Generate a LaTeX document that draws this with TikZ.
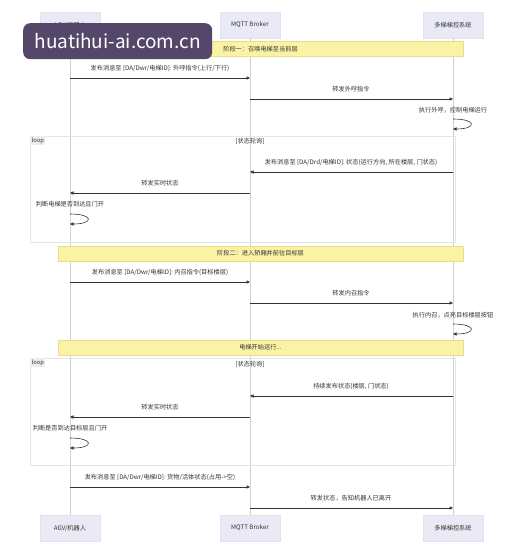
\documentclass[tikz,border=0pt]{standalone}
\usepackage{fontspec}
\setmainfont{Noto Sans CJK SC}
\usetikzlibrary{arrows.meta}
\definecolor{actfill}{HTML}{EAEAF7}
\definecolor{actline}{HTML}{E2E2EE}
\definecolor{notefill}{HTML}{FAF3A6}
\definecolor{noteline}{HTML}{E8DE88}
\definecolor{lifeln}{HTML}{D0D0D0}
\definecolor{txt}{HTML}{333333}
\definecolor{wm}{HTML}{54476A}
\begin{document}
\begin{tikzpicture}[x=1pt,y=-1pt,
  actor/.style={draw=actline, fill=actfill, minimum width=60pt, minimum height=26pt, font=\fontsize{6.2}{7}\selectfont, text=txt, inner sep=0pt},
  banner/.style={draw=noteline, fill=notefill, minimum width=405pt, minimum height=15pt, font=\fontsize{6.2}{7}\selectfont, text=txt, inner sep=0pt},
  lbl/.style={font=\fontsize{6.2}{7}\selectfont, text=txt, inner sep=0pt},
  msg/.style={draw=txt, line width=0.6pt, -{Triangle[length=3.5pt,width=3.2pt]}},
  life/.style={draw=lifeln, line width=0.6pt},
  loopbox/.style={draw=black!10, line width=0.7pt, minimum width=425pt, inner sep=0pt},
  looptag/.style={fill=black!7, font=\fontsize{5.8}{6}\selectfont, text=txt, inner sep=1.5pt}]

\useasboundingbox[fill=white] (0,0) rectangle (522,554);

% actors
\node[actor] (agvT) at (70,25) {AGV/机器人};
\node[actor] (mqT) at (250,25) {MQTT Broker};
\node[actor] (elT) at (453,25) {多梯梯控系统};
\node[actor] (agvB) at (70,528) {AGV/机器人};
\node[actor] (mqB) at (250,528) {MQTT Broker};
\node[actor] (elB) at (453,528) {多梯梯控系统};

% lifelines
\draw[life] (agvT) -- (agvB);
\draw[life] (mqT) -- (mqB);
\draw[life] (elT) -- (elB);

% loop boxes
\node[loopbox, minimum height=106pt, anchor=north west] (loop1) at (30,136) {};
\node[looptag, anchor=north west] (loop1t) at (loop1.north west) {loop};
\node[lbl] (loop1c) at (250,141) {[状态轮询]};
\node[loopbox, minimum height=107pt, anchor=north west] (loop2) at (30,358) {};
\node[looptag, anchor=north west] (loop2t) at (loop2.north west) {loop};
\node[lbl] (loop2c) at (250,364) {[状态轮询]};

% banners
\node[banner] (ph1) at (260.5,49) {阶段一：召唤电梯至当前层};
\node[banner] (ph2) at (260.5,253.5) {阶段二：进入轿厢并前往目标层};
\node[banner] (ph3) at (260.5,347.5) {电梯开始运行...};

% phase 1
\node[lbl] (t1) at (160,68) {发布消息至 [DA/Dwr/电梯ID]: 外呼指令(上行/下行)};
\draw[msg] (agvT |- 0,78) -- (mqT |- 0,78);
\node[lbl] (t2) at (351,89) {转发外呼指令};
\draw[msg] (mqT |- 0,99) -- (elT |- 0,99);
\node[lbl] (t3) at (453,110) {执行外呼，控制电梯运行};
\draw[msg] (elT |- 0,119) .. controls +(24,0) and +(24,0) .. (elT |- 0,129);

% loop 1
\node[lbl] (t4) at (351,162) {发布消息至 [DA/Drd/电梯ID]: 状态(运行方向, 所在楼层, 门状态)};
\draw[msg] (elT |- 0,172) -- (mqT |- 0,172);
\node[lbl] (t5) at (160,183) {转发实时状态};
\draw[msg] (mqT |- 0,193) -- (agvT |- 0,193);
\node[lbl] (t6) at (70,204) {判断电梯是否到达且门开};
\draw[msg] (agvT |- 0,214) .. controls +(24,0) and +(24,0) .. (agvT |- 0,224);

% phase 2
\node[lbl] (t7) at (160,272) {发布消息至 [DA/Dwr/电梯ID]: 内召指令(目标楼层)};
\draw[msg] (agvT |- 0,282) -- (mqT |- 0,282);
\node[lbl] (t8) at (351,293) {转发内召指令};
\draw[msg] (mqT |- 0,303) -- (elT |- 0,303);
\node[lbl] (t9) at (453,315) {执行内召，点亮目标楼层按钮};
\draw[msg] (elT |- 0,324) .. controls +(24,0) and +(24,0) .. (elT |- 0,334);

% loop 2
\node[lbl] (t10) at (351,386) {持续发布状态(楼层, 门状态)};
\draw[msg] (elT |- 0,396) -- (mqT |- 0,396);
\node[lbl] (t11) at (160,407) {转发实时状态};
\draw[msg] (mqT |- 0,417) -- (agvT |- 0,417);
\node[lbl] (t12) at (70,428) {判断是否到达目标层且门开};
\draw[msg] (agvT |- 0,438) .. controls +(24,0) and +(24,0) .. (agvT |- 0,448);

% final
\node[lbl] (t13) at (160,477) {发布消息至 [DA/Dwr/电梯ID]: 货物/活体状态(占用->空)};
\draw[msg] (agvT |- 0,487) -- (mqT |- 0,487);
\node[lbl] (t14) at (351,498) {转发状态，告知机器人已离开};
\draw[msg] (mqT |- 0,508) -- (elT |- 0,508);

% watermark
\node[fill=wm, rounded corners=7pt, minimum width=189pt, minimum height=36pt, text=white, font=\fontsize{19}{20}\selectfont, inner sep=0pt, anchor=north west] (wmk) at (23,23) {huatihui-ai.com.cn};
\end{tikzpicture}
\end{document}
